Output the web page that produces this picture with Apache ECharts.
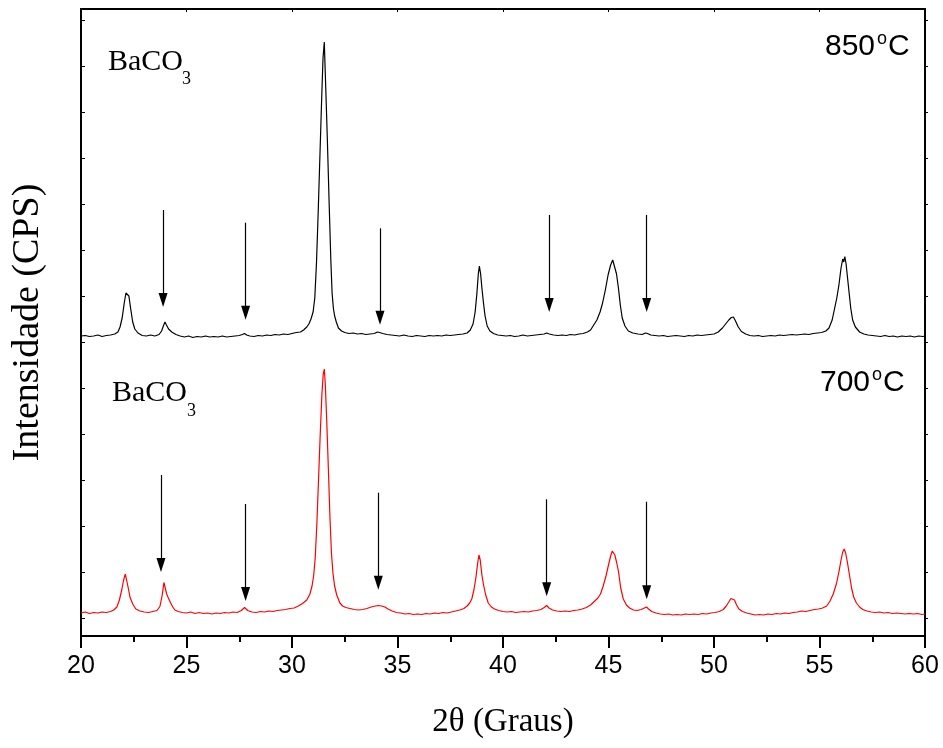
<!DOCTYPE html>
<html>
<head>
<meta charset="utf-8">
<script src="https://cdn.jsdelivr.net/npm/echarts@6/dist/echarts.min.js"></script>
<style>
  html, body { margin: 0; padding: 0; background: #fff; }
  #chart { width: 943px; height: 748px; }
</style>
</head>
<body>
<div id="chart"></div>
<script>
// difratograma 850 C (curva preta, deslocada para cima) - [2theta, intensidade]
const pattern850 = [
  [20.0, 2820], [20.2, 2825], [20.4, 2815], [20.6, 2820], [20.8, 2830], [21.0, 2815], [21.2, 2825],
  [21.4, 2830], [21.6, 2840], [21.75, 2860], [21.85, 2910], [21.95, 3000], [22.05, 3150], [22.13, 3250],
  [22.2, 3270], [22.27, 3220], [22.35, 3100], [22.45, 2960], [22.55, 2890], [22.7, 2850], [22.9, 2825],
  [23.1, 2820], [23.3, 2830], [23.5, 2820], [23.7, 2835], [23.82, 2870], [23.92, 2930], [23.98, 2960],
  [24.05, 2930], [24.15, 2890], [24.3, 2860], [24.5, 2835], [24.7, 2820], [24.9, 2810], [25.1, 2820],
  [25.3, 2805], [25.5, 2815], [25.7, 2810], [25.9, 2820], [26.1, 2810], [26.3, 2815], [26.5, 2810],
  [26.7, 2820], [26.9, 2810], [27.1, 2815], [27.3, 2820], [27.5, 2825], [27.65, 2835], [27.75, 2845],
  [27.85, 2830], [28.0, 2820], [28.2, 2815], [28.4, 2825], [28.6, 2820], [28.8, 2830], [29.0, 2825],
  [29.2, 2835], [29.4, 2830], [29.6, 2840], [29.8, 2835], [30.0, 2845], [30.2, 2855], [30.4, 2860],
  [30.55, 2880], [30.7, 2910], [30.8, 2940], [30.9, 2990], [31.0, 3060], [31.08, 3200], [31.16, 3550],
  [31.24, 4050], [31.32, 4600], [31.4, 5150], [31.47, 5600], [31.53, 5760], [31.6, 5300], [31.68, 4750],
  [31.76, 4150], [31.84, 3580], [31.9, 3250], [31.96, 3100], [32.02, 3020], [32.1, 2960], [32.2, 2900],
  [32.35, 2870], [32.5, 2855], [32.7, 2845], [32.9, 2850], [33.1, 2840], [33.3, 2845], [33.5, 2835],
  [33.7, 2840], [33.9, 2845], [34.05, 2860], [34.15, 2855], [34.3, 2845], [34.5, 2835], [34.7, 2830],
  [34.9, 2825], [35.1, 2820], [35.3, 2830], [35.5, 2820], [35.7, 2815], [35.9, 2825], [36.1, 2820],
  [36.3, 2815], [36.5, 2825], [36.7, 2820], [36.9, 2825], [37.1, 2820], [37.3, 2830], [37.5, 2825],
  [37.7, 2830], [37.9, 2835], [38.1, 2840], [38.3, 2850], [38.45, 2880], [38.58, 2940], [38.68, 3060],
  [38.76, 3240], [38.83, 3440], [38.88, 3520], [38.94, 3440], [39.0, 3300], [39.07, 3160], [39.15, 3020],
  [39.25, 2920], [39.38, 2870], [39.55, 2845], [39.75, 2830], [39.95, 2825], [40.15, 2820], [40.35, 2825],
  [40.55, 2815], [40.75, 2820], [40.95, 2830], [41.15, 2820], [41.35, 2825], [41.55, 2830], [41.75, 2835],
  [41.95, 2840], [42.07, 2850], [42.2, 2840], [42.4, 2830], [42.6, 2825], [42.8, 2830], [43.0, 2825],
  [43.2, 2835], [43.4, 2830], [43.6, 2840], [43.8, 2845], [44.0, 2860], [44.15, 2880], [44.3, 2930],
  [44.45, 2980], [44.6, 3060], [44.72, 3150], [44.85, 3280], [44.98, 3430], [45.1, 3530], [45.2, 3580],
  [45.28, 3560], [45.38, 3440], [45.47, 3300], [45.56, 3130], [45.65, 3000], [45.78, 2920], [45.94, 2870],
  [46.15, 2850], [46.4, 2840], [46.6, 2835], [46.75, 2850], [46.85, 2845], [47.0, 2830], [47.2, 2825],
  [47.4, 2820], [47.6, 2825], [47.8, 2815], [48.0, 2820], [48.2, 2825], [48.4, 2820], [48.6, 2815],
  [48.8, 2825], [49.0, 2820], [49.2, 2830], [49.4, 2825], [49.6, 2830], [49.8, 2835], [50.0, 2840],
  [50.2, 2860], [50.4, 2900], [50.55, 2940], [50.7, 2980], [50.82, 3005], [50.92, 3010], [51.02, 2970],
  [51.15, 2910], [51.3, 2865], [51.5, 2840], [51.7, 2825], [51.9, 2820], [52.1, 2825], [52.3, 2815],
  [52.5, 2820], [52.7, 2825], [52.9, 2820], [53.1, 2830], [53.3, 2825], [53.5, 2830], [53.7, 2835],
  [53.9, 2830], [54.1, 2835], [54.3, 2840], [54.5, 2835], [54.7, 2845], [54.9, 2850], [55.1, 2855],
  [55.3, 2870], [55.45, 2900], [55.6, 2980], [55.72, 3100], [55.82, 3200], [55.92, 3330], [56.02, 3500],
  [56.1, 3590], [56.15, 3560], [56.2, 3615], [56.26, 3540], [56.33, 3400], [56.4, 3260], [56.48, 3100],
  [56.57, 2980], [56.7, 2910], [56.9, 2860], [57.1, 2840], [57.3, 2830], [57.5, 2825], [57.7, 2820],
  [57.9, 2815], [58.1, 2825], [58.3, 2815], [58.5, 2820], [58.7, 2810], [58.9, 2820], [59.1, 2815],
  [59.3, 2820], [59.5, 2810], [59.7, 2820], [59.9, 2815], [60.0, 2820]
];

// difratograma 700 C (curva vermelha)
const pattern700 = [
  [20.0, 50], [20.2, 60], [20.4, 45], [20.6, 55], [20.8, 50], [21.0, 60], [21.2, 55], [21.4, 65],
  [21.55, 80], [21.7, 110], [21.82, 180], [21.93, 280], [22.02, 380], [22.1, 440], [22.16, 420],
  [22.24, 300], [22.32, 210], [22.45, 140], [22.6, 90], [22.8, 70], [23.0, 60], [23.2, 55], [23.4, 65],
  [23.6, 75], [23.74, 115], [23.85, 230], [23.93, 355], [23.98, 310], [24.06, 240], [24.14, 200],
  [24.25, 150], [24.35, 110], [24.45, 80], [24.6, 65], [24.8, 55], [25.0, 50], [25.2, 60], [25.4, 45],
  [25.6, 55], [25.8, 45], [26.0, 50], [26.2, 40], [26.4, 50], [26.6, 45], [26.8, 55], [27.0, 50],
  [27.2, 60], [27.4, 55], [27.6, 75], [27.75, 105], [27.9, 75], [28.1, 60], [28.3, 55], [28.5, 65],
  [28.7, 60], [28.9, 70], [29.1, 65], [29.3, 75], [29.5, 80], [29.7, 85], [29.9, 95], [30.1, 100],
  [30.3, 120], [30.5, 145], [30.7, 180], [30.85, 240], [30.95, 320], [31.03, 430], [31.1, 600],
  [31.18, 950], [31.26, 1400], [31.34, 1850], [31.42, 2250], [31.48, 2440], [31.53, 2490], [31.58, 2330],
  [31.65, 1950], [31.73, 1450], [31.8, 1000], [31.87, 650], [31.94, 450], [32.02, 320], [32.12, 230],
  [32.27, 150], [32.4, 120], [32.55, 105], [32.75, 95], [32.95, 85], [33.15, 80], [33.35, 85], [33.55, 95],
  [33.75, 110], [33.95, 120], [34.1, 125], [34.25, 120], [34.4, 110], [34.55, 90], [34.75, 70], [34.95, 55],
  [35.15, 50], [35.35, 40], [35.55, 45], [35.75, 35], [35.95, 40], [36.15, 35], [36.35, 45], [36.55, 40],
  [36.75, 50], [36.95, 45], [37.15, 55], [37.35, 50], [37.55, 60], [37.75, 70], [37.95, 80], [38.15, 95],
  [38.3, 120], [38.42, 150], [38.52, 190], [38.62, 280], [38.72, 410], [38.8, 550], [38.86, 630],
  [38.92, 580], [39.0, 430], [39.07, 340], [39.18, 230], [39.3, 150], [39.45, 110], [39.6, 90],
  [39.8, 75], [40.0, 65], [40.2, 60], [40.4, 65], [40.6, 55], [40.8, 60], [41.0, 65], [41.2, 60],
  [41.4, 70], [41.6, 75], [41.8, 85], [41.95, 105], [42.07, 125], [42.18, 100], [42.35, 80], [42.55, 70],
  [42.75, 65], [42.95, 70], [43.15, 65], [43.35, 75], [43.55, 80], [43.75, 90], [43.95, 105], [44.15, 130],
  [44.35, 170], [44.5, 200], [44.62, 240], [44.75, 320], [44.88, 420], [45.0, 530], [45.1, 620],
  [45.18, 670], [45.24, 675], [45.3, 630], [45.38, 560], [45.47, 470], [45.58, 300], [45.7, 190],
  [45.85, 130], [46.0, 100], [46.18, 80], [46.35, 75], [46.55, 85], [46.7, 100], [46.8, 110], [46.9, 90],
  [47.05, 65], [47.25, 50], [47.45, 40], [47.65, 35], [47.85, 40], [48.05, 30], [48.25, 35], [48.45, 30],
  [48.65, 40], [48.85, 35], [49.05, 40], [49.25, 35], [49.45, 45], [49.65, 40], [49.85, 50], [50.05, 55],
  [50.25, 65], [50.44, 85], [50.58, 120], [50.7, 160], [50.8, 195], [50.89, 215], [50.97, 180],
  [51.07, 130], [51.18, 90], [51.35, 65], [51.55, 50], [51.75, 40], [51.95, 30], [52.15, 35], [52.35, 30],
  [52.55, 40], [52.75, 35], [52.95, 45], [53.15, 40], [53.35, 50], [53.55, 45], [53.75, 55], [53.95, 60],
  [54.15, 70], [54.35, 65], [54.55, 75], [54.75, 85], [54.95, 90], [55.15, 100], [55.34, 120], [55.5, 170],
  [55.65, 240], [55.8, 340], [55.92, 460], [56.02, 580], [56.1, 660], [56.17, 690], [56.24, 650],
  [56.32, 560], [56.42, 430], [56.52, 300], [56.62, 210], [56.75, 150], [56.9, 110], [57.05, 85],
  [57.25, 70], [57.45, 60], [57.65, 55], [57.85, 60], [58.05, 50], [58.25, 55], [58.45, 45], [58.65, 50],
  [58.85, 45], [59.05, 40], [59.25, 45], [59.45, 40], [59.65, 45], [59.85, 35], [60.0, 40]
];

// setas: [2theta, inicio, ponta]
const arrows850 = [[23.89, 4080, 3180], [27.8, 3953, 3053], [34.17, 3897, 3003], [42.19, 4030, 3130], [46.81, 4030, 3130]];
const arrows700 = [[23.79, 1430, 530], [27.8, 1140, 240], [34.09, 1253, 353], [42.07, 1187, 287], [46.81, 1163, 257]];

// marcas do eixo y (sem rotulos)
const yTickValues = [0, 460, 920, 1380, 1840, 2300, 2760, 3220, 3680, 4140, 4600, 5060, 5520, 5980];

const chart = echarts.init(document.getElementById('chart'));

function arrowLines(list) {
  return list.map(a => [{ coord: [a[0], a[1]] }, { coord: [a[0], a[2]] }]);
}

const arrowStyle = {
  silent: true,
  animation: false,
  symbol: ['none', 'triangle'],
  symbolSize: [9, 14],
  lineStyle: { color: '#000', width: 1.2, type: 'solid' },
  itemStyle: { color: '#000' },
  label: { show: false },
  emphasis: { disabled: true }
};

const serif = 'Liberation Serif';
const sans = 'Liberation Sans';

const option = {
  backgroundColor: '#fff',
  animation: false,
  grid: { left: 81, right: 18, top: 9, bottom: 112, containLabel: false },
  xAxis: [
    {
      type: 'value', min: 20, max: 60, interval: 5,
      position: 'bottom',
      axisLine: { onZero: false, lineStyle: { color: '#000', width: 2 } },
      axisTick: { inside: false, length: 12, lineStyle: { color: '#000', width: 2 } },
      minorTick: { show: true, splitNumber: 2, length: 6, lineStyle: { color: '#000', width: 2 } },
      axisLabel: { fontFamily: sans, fontSize: 25, color: '#000', margin: 18 },
      splitLine: { show: false },
      name: '2θ (Graus)', nameLocation: 'middle', nameGap: 70,
      nameTextStyle: { fontFamily: serif, fontSize: 33, color: '#000' }
    },
    {
      type: 'value', min: 20, max: 60, interval: 5,
      position: 'top',
      axisLine: { onZero: false, lineStyle: { color: '#000', width: 2 } },
      axisTick: { inside: true, length: 3, lineStyle: { color: '#000', width: 1 } },
      axisLabel: { show: false },
      splitLine: { show: false }
    }
  ],
  yAxis: [
    {
      type: 'value', min: -180, max: 6090,
      position: 'left',
      axisLine: { onZero: false, lineStyle: { color: '#000', width: 2 } },
      axisTick: { inside: true, length: 4, customValues: yTickValues, lineStyle: { color: '#000', width: 1 } },
      axisLabel: { show: false },
      splitLine: { show: false },
      name: 'Intensidade (CPS)', nameLocation: 'middle', nameGap: 34, nameRotate: 90,
      nameTextStyle: { fontFamily: serif, fontSize: 38, color: '#000' }
    },
    {
      type: 'value', min: -180, max: 6090,
      position: 'right',
      axisLine: { onZero: false, lineStyle: { color: '#000', width: 2 } },
      axisTick: { inside: false, length: 3, customValues: yTickValues, lineStyle: { color: '#000', width: 1 } },
      axisLabel: { show: false },
      splitLine: { show: false }
    }
  ],
  series: [
    {
      name: '850°C', type: 'line', data: pattern850, showSymbol: false, symbol: 'none',
      lineStyle: { color: '#000', width: 1.2 }, xAxisIndex: 0, yAxisIndex: 0,
      markLine: Object.assign({ data: arrowLines(arrows850) }, arrowStyle)
    },
    {
      name: '700°C', type: 'line', data: pattern700, showSymbol: false, symbol: 'none',
      lineStyle: { color: '#ff0000', width: 1.2 }, xAxisIndex: 0, yAxisIndex: 0,
      markLine: Object.assign({ data: arrowLines(arrows700) }, arrowStyle)
    }
  ],
  graphic: [
    { type: 'text', x: 108, y: 62, style: { text: 'BaCO', fontFamily: serif, fontSize: 30, fill: '#000', verticalAlign: 'middle' } },
    { type: 'text', x: 182, y: 79, style: { text: '3', fontFamily: serif, fontSize: 18, fill: '#000', verticalAlign: 'middle' } },
    { type: 'text', x: 112, y: 393, style: { text: 'BaCO', fontFamily: serif, fontSize: 30, fill: '#000', verticalAlign: 'middle' } },
    { type: 'text', x: 187, y: 411, style: { text: '3', fontFamily: serif, fontSize: 18, fill: '#000', verticalAlign: 'middle' } },
    { type: 'text', x: 825, y: 47, style: { text: '850', fontFamily: sans, fontSize: 30, fill: '#000', verticalAlign: 'middle' } },
    { type: 'text', x: 877, y: 39, style: { text: 'o', fontFamily: sans, fontSize: 18, fill: '#000', verticalAlign: 'middle' } },
    { type: 'text', x: 888, y: 47, style: { text: 'C', fontFamily: sans, fontSize: 30, fill: '#000', verticalAlign: 'middle' } },
    { type: 'text', x: 820, y: 383, style: { text: '700', fontFamily: sans, fontSize: 30, fill: '#000', verticalAlign: 'middle' } },
    { type: 'text', x: 872, y: 375, style: { text: 'o', fontFamily: sans, fontSize: 18, fill: '#000', verticalAlign: 'middle' } },
    { type: 'text', x: 883, y: 383, style: { text: 'C', fontFamily: sans, fontSize: 30, fill: '#000', verticalAlign: 'middle' } }
  ]
};

chart.setOption(option);
</script>
</body>
</html>
